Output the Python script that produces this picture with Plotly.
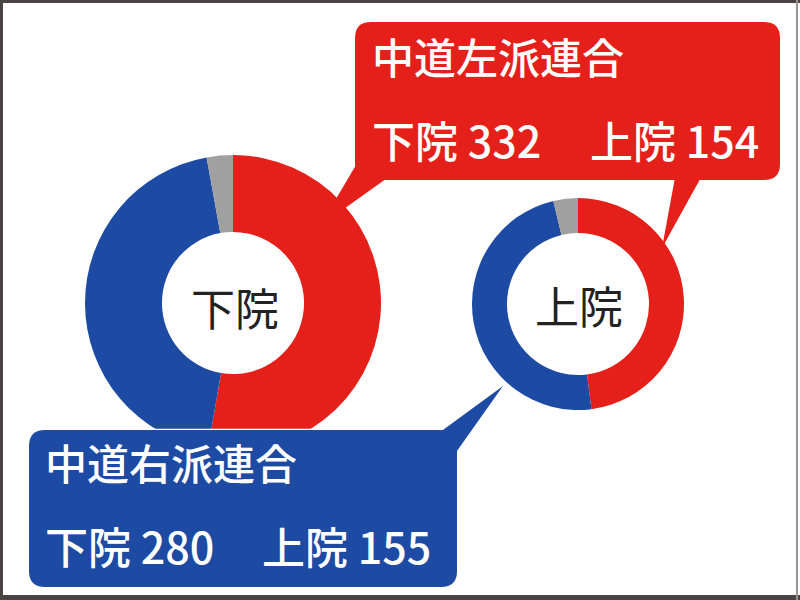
import plotly.graph_objects as go

# seats per bloc (left bloc, right bloc, others)
blocs = ['中道左派連合', '中道右派連合', 'その他']
lower_seats = [332, 280, 18]
upper_seats = [154, 155, 12]
house_names = ['下院', '上院']
colors = ['#E5201A', '#1D4AA3', '#A0A0A0']

W, H = 800, 600
FONT = 'Noto Sans CJK JP'


def X(px):
    return px / W


def Y(py):
    return 1 - py / H


def rounded_box(x0, y0, x1, y1, r):
    return (f"M {X(x0 + r)},{Y(y0)} L {X(x1 - r)},{Y(y0)} "
            f"Q {X(x1)},{Y(y0)} {X(x1)},{Y(y0 + r)} L {X(x1)},{Y(y1 - r)} "
            f"Q {X(x1)},{Y(y1)} {X(x1 - r)},{Y(y1)} L {X(x0 + r)},{Y(y1)} "
            f"Q {X(x0)},{Y(y1)} {X(x0)},{Y(y1 - r)} L {X(x0)},{Y(y0 + r)} "
            f"Q {X(x0)},{Y(y0)} {X(x0 + r)},{Y(y0)} Z")


def triangle(a, b, c):
    return (f"M {X(a[0])},{Y(a[1])} L {X(b[0])},{Y(b[1])} "
            f"L {X(c[0])},{Y(c[1])} Z")


fig = go.Figure()

# lower house donut
fig.add_trace(go.Pie(
    labels=blocs, values=lower_seats, sort=False, direction='clockwise',
    rotation=0, hole=0.48, textinfo='none', hoverinfo='label+value',
    marker=dict(colors=colors, line=dict(width=0)),
    domain=dict(x=[X(85), X(381)], y=[Y(451), Y(155)]),
))
# upper house donut
fig.add_trace(go.Pie(
    labels=blocs, values=upper_seats, sort=False, direction='clockwise',
    rotation=0, hole=0.67, textinfo='none', hoverinfo='label+value',
    marker=dict(colors=colors, line=dict(width=0)),
    domain=dict(x=[X(472), X(684)], y=[Y(410), Y(198)]),
))

shapes = []
# red callout
red_box = rounded_box(355, 22, 780, 180, 16)
red_ptrs = [triangle((356, 165), (390, 176), (320, 226)),
            triangle((676, 172), (704, 172), (662, 248))]
shapes.append(dict(type='path', path=red_box, fillcolor=colors[0], line=dict(width=0)))
for p in red_ptrs:
    shapes.append(dict(type='path', path=p, fillcolor=colors[0], line=dict(width=0)))

# blue callout with white edge
blue_box = rounded_box(29, 430, 457, 587, 16)
blue_ptr = triangle((432, 438), (452, 458), (503, 386))
shapes.append(dict(type='path', path=blue_box, fillcolor=colors[1], line=dict(color='white', width=2.5)))
shapes.append(dict(type='path', path=blue_ptr, fillcolor=colors[1], line=dict(color='white', width=2.5)))
shapes.append(dict(type='path', path=blue_box, fillcolor=colors[1], line=dict(width=0)))
shapes.append(dict(type='path', path=blue_ptr, fillcolor=colors[1], line=dict(width=0)))

# frame
shapes.append(dict(type='line', x0=0, x1=1, y0=Y(1.5), y1=Y(1.5),
                   line=dict(color='#4a4444', width=3)))
shapes.append(dict(type='line', x0=X(1.5), x1=X(1.5), y0=0, y1=1,
                   line=dict(color='#4a4444', width=3)))
shapes.append(dict(type='line', x0=0, x1=1, y0=Y(597.5), y1=Y(597.5),
                   line=dict(color='#4a4444', width=5)))
shapes.append(dict(type='line', x0=X(797), x1=X(797), y0=0, y1=1,
                   line=dict(color='#9a9494', width=2)))

for s in shapes:
    s['xref'] = 'paper'
    s['yref'] = 'paper'
    s['layer'] = 'above'

annotations = []


def label(text, x, y, size, color='white', anchor='left', weight=500):
    annotations.append(dict(text=text, x=X(x), y=Y(y), xref='paper', yref='paper',
                            xanchor=anchor, yanchor='middle', showarrow=False,
                            font=dict(family=FONT, size=size, color=color, weight=weight)))


label(blocs[0], 370, 55, 42)
label(f'{house_names[0]} {lower_seats[0]}', 370, 139, 43)
label(f'{house_names[1]} {upper_seats[0]}', 588, 139, 43)
label(blocs[1], 43, 461, 42)
label(f'{house_names[0]} {lower_seats[1]}', 43, 545, 43)
label(f'{house_names[1]} {upper_seats[1]}', 260, 545, 43)
label(house_names[0], 235, 307, 44, color='#222222', anchor='center', weight=400)
label(house_names[1], 579, 305, 44, color='#222222', anchor='center', weight=400)

fig.update_layout(
    width=W, height=H,
    margin=dict(l=0, r=0, t=0, b=0),
    paper_bgcolor='white', plot_bgcolor='white',
    showlegend=False,
    shapes=shapes,
    annotations=annotations,
)

fig.write_html("out.html", config={'displayModeBar': False},
               post_script="document.body.style.margin='0';")
